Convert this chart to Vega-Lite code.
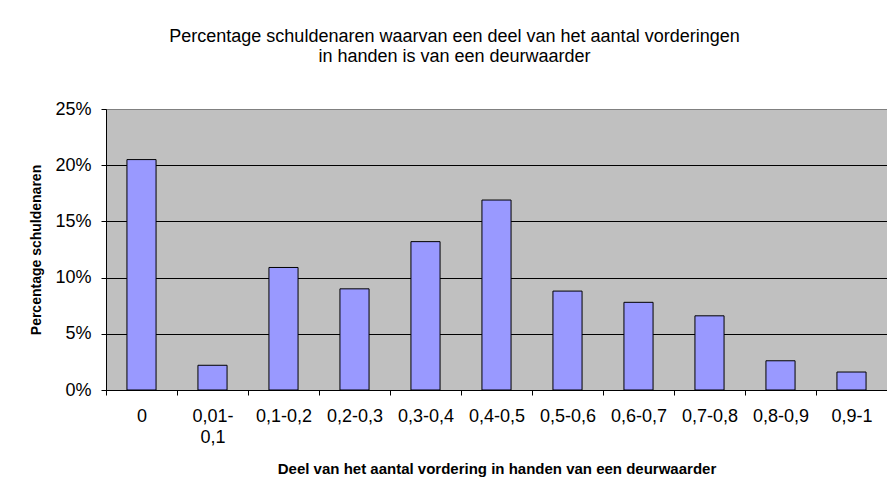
{
  "$schema": "https://vega.github.io/schema/vega-lite/v6.json",
  "autosize": "none",
  "padding": {"left": 106, "top": 109, "right": 0, "bottom": 101},
  "width": 781,
  "height": 281,
  "background": "white",
  "title": {
    "text": ["Percentage schuldenaren waarvan een deel van het aantal vorderingen", "in handen is van een deurwaarder"],
    "font": "Liberation Sans",
    "fontSize": 18,
    "fontWeight": "normal",
    "color": "black",
    "anchor": "middle",
    "dx": -42,
    "lineHeight": 20,
    "offset": 34
  },
  "data": {
    "values": [
      {"cat": "0", "pct": 0.205},
      {"cat": "0,01-0,1", "pct": 0.022},
      {"cat": "0,1-0,2", "pct": 0.109},
      {"cat": "0,2-0,3", "pct": 0.090},
      {"cat": "0,3-0,4", "pct": 0.132},
      {"cat": "0,4-0,5", "pct": 0.169},
      {"cat": "0,5-0,6", "pct": 0.088},
      {"cat": "0,6-0,7", "pct": 0.078},
      {"cat": "0,7-0,8", "pct": 0.066},
      {"cat": "0,8-0,9", "pct": 0.026},
      {"cat": "0,9-1", "pct": 0.016}
    ]
  },
  "mark": {"type": "bar", "fill": "#9999FF", "stroke": "black", "strokeWidth": 1, "width": {"band": 0.41}},
  "encoding": {
    "x": {
      "field": "cat",
      "type": "nominal",
      "sort": null,
      "scale": {"paddingInner": 0, "paddingOuter": 0},
      "axis": {
        "title": "Deel van het aantal vordering in handen van een deurwaarder",
        "labelAngle": 0,
        "tickBand": "extent",
        "labelExpr": "datum.label == '0,01-0,1' ? ['0,01-', '0,1'] : datum.label",
        "labelLineHeight": 21,
        "labelPadding": 12,
        "titlePadding": 15,
        "titleFontSize": 15
      }
    },
    "y": {
      "field": "pct",
      "type": "quantitative",
      "scale": {"domain": [0, 0.25], "nice": false},
      "axis": {
        "title": "Percentage schuldenaren",
        "format": ".0%",
        "values": [0, 0.05, 0.1, 0.15, 0.2, 0.25],
        "grid": true,
        "gridColor": {"condition": {"test": "datum.value >= 0.25", "value": "#808080"}, "value": "black"},
        "labelPadding": 10,
        "titlePadding": 11,
        "titleFontSize": 14
      }
    }
  },
  "config": {
    "view": {"fill": "#C0C0C0", "stroke": "#808080", "strokeWidth": 1},
    "axis": {
      "domainColor": "black",
      "tickColor": "black",
      "tickSize": 5,
      "gridOpacity": 1,
      "gridWidth": 1,
      "domainWidth": 1,
      "labelFont": "Liberation Sans",
      "labelFontSize": 18,
      "labelColor": "black",
      "titleFont": "Liberation Sans",
      "titleFontWeight": "bold",
      "titleColor": "black"
    },
    "axisX": {"grid": false}
  }
}
